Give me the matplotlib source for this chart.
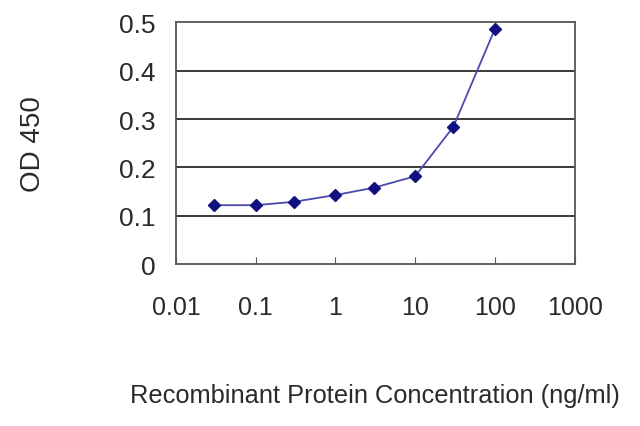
import matplotlib
matplotlib.use('Agg')
import matplotlib.pyplot as plt

# ELISA standard curve
conc = [0.03, 0.1, 0.3, 1, 3, 10, 30, 100]
od450 = [0.122, 0.122, 0.129, 0.143, 0.158, 0.182, 0.284, 0.487]

xticks = [0.01, 0.1, 1, 10, 100, 1000]
xticklabels = ['0.01', '0.1', '1', '10', '100', '1000']
yticks = [0, 0.1, 0.2, 0.3, 0.4, 0.5]
yticklabels = ['0', '0.1', '0.2', '0.3', '0.4', '0.5']

plt.rcParams['font.family'] = ['Liberation Sans', 'DejaVu Sans']
textcol = '#2a2a2a'

fig = plt.figure(figsize=(6.4, 4.27), dpi=100)
ax = fig.add_axes([0.275, 0.379, 0.623, 0.566])

# horizontal gridlines inside the frame
for y in yticks[1:-1]:
    ax.axhline(y, color='#2a2a2a', lw=1.3, zorder=1)

ax.plot(conc, od450, color='#4b4bb0', lw=1.3, zorder=2)
ax.plot(conc, od450, ls='none', marker='D', ms=6.5, color='#101080', zorder=3)

ax.set_xscale('log')
ax.set_xlim(0.01, 1000)
ax.set_ylim(0, 0.5)
ax.set_xticks(xticks)
ax.set_xticklabels(xticklabels)
ax.set_yticks(yticks)
ax.set_yticklabels(yticklabels)
ax.minorticks_off()

for s in ax.spines.values():
    s.set_color('#555555')
    s.set_linewidth(1.3)

ax.tick_params(axis='x', direction='in', length=5, color='#555555',
               labelsize=18, pad=22, labelcolor=textcol)
ax.tick_params(axis='y', direction='in', length=0, labelsize=19, pad=15,
               labelcolor=textcol)

ax.set_ylabel('OD 450', fontsize=20, color=textcol, labelpad=52)
ax.set_xlabel('Recombinant Protein Concentration (ng/ml)', fontsize=18.3,
              color=textcol, labelpad=46)

plt.savefig('out.png', dpi=100)
